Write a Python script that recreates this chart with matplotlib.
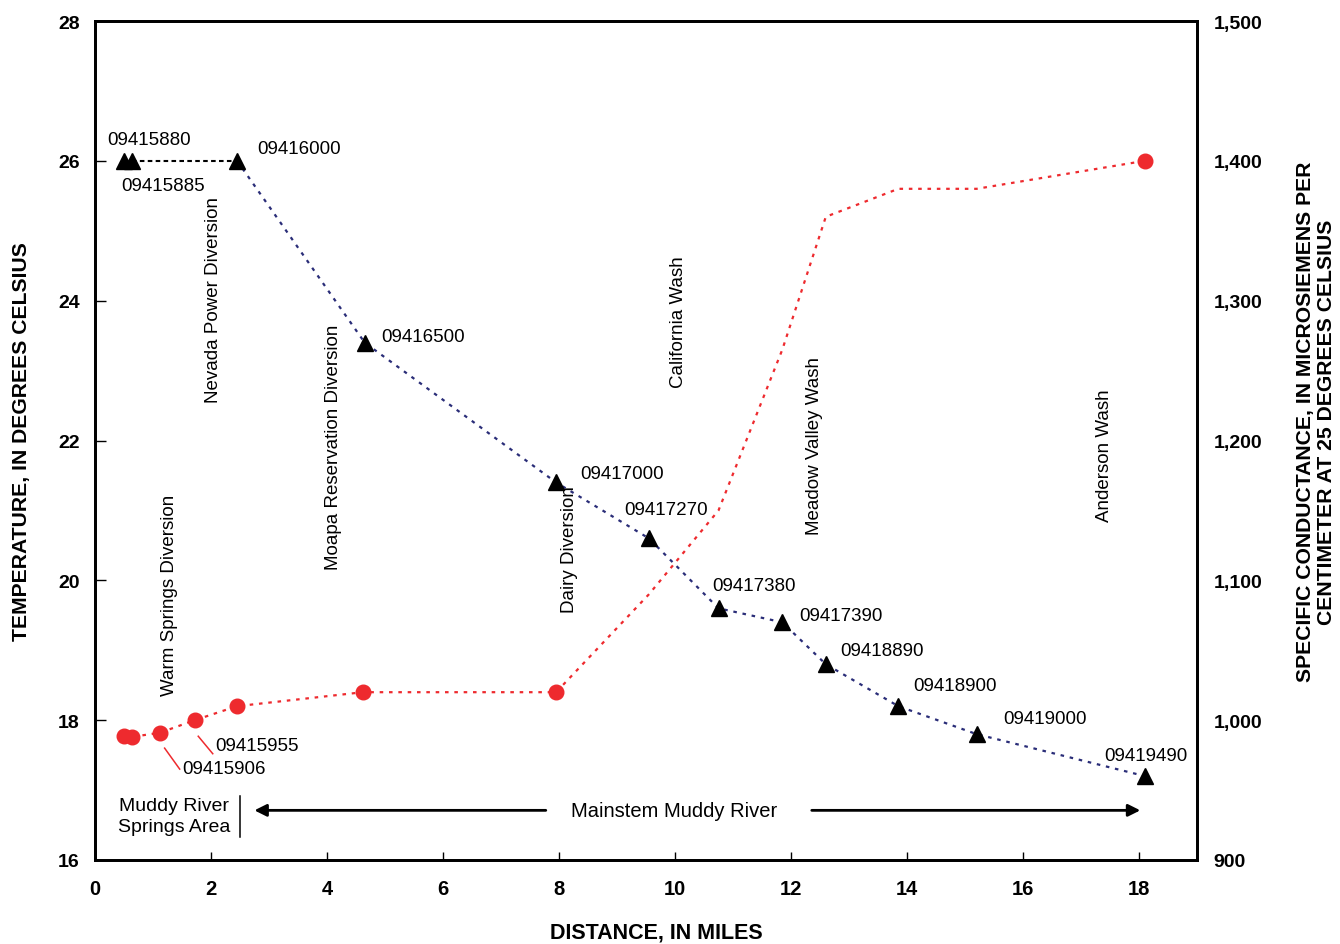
import matplotlib
matplotlib.use('Agg')
from matplotlib import pyplot as plt
from matplotlib.ticker import FuncFormatter

# temperature profile (left axis)
temp_dist = [0.5, 0.63, 2.45, 4.65, 7.95, 9.55, 10.75, 11.85, 12.6, 13.85, 15.2, 18.1]
temp_vals = [26.0, 26.0, 26.0, 23.4, 21.4, 20.6, 19.6, 19.4, 18.8, 18.2, 17.8, 17.2]
temp_ids = ['09415880', '09415885', '09416000', '09416500', '09417000', '09417270',
            '09417380', '09417390', '09418890', '09418900', '09419000', '09419490']

# specific conductance profile (right axis)
cond_dist = [0.5, 0.63, 1.12, 1.72, 2.45, 4.62, 7.95, 9.55, 10.75, 11.85, 12.6, 13.85, 15.2, 18.1]
cond_vals = [989, 988, 991, 1000, 1010, 1020, 1020, 1090, 1150, 1265, 1360, 1380, 1380, 1400]
cond_marked = [True, True, True, True, True, True, True,
               False, False, False, False, False, False, True]

features = ['Warm Springs Diversion', 'Nevada Power Diversion', 'Moapa Reservation Diversion',
            'Dairy Diversion', 'California Wash', 'Meadow Valley Wash', 'Anderson Wash']

SANS = ['Liberation Sans', 'DejaVu Sans']
RED = '#ee2a2e'
NAVY = '#2a2d78'

plt.rcParams['font.family'] = SANS

fig = plt.figure(figsize=(13.4, 9.45), dpi=100)
ax = fig.add_axes([0.0709, 0.0889, 0.8224, 0.8878])
ax2 = ax.twinx()

# temperature line: springs stations dashed black, mainstem dotted navy
ax.plot(temp_dist[:3], temp_vals[:3], color='black', lw=1.5, ls=(0, (2.2, 1.6)), zorder=3)
ax.plot(temp_dist[2:], temp_vals[2:], color=NAVY, lw=1.6, ls=(0, (1.6, 2.6)), zorder=3)
ax.plot(temp_dist, temp_vals, ls='none', marker='^', ms=11, color='black', zorder=5)

# conductance
ax2.plot(cond_dist, cond_vals, color=RED, lw=1.6, ls=(0, (1.6, 2.6)), zorder=3)
mx = [d for d, m in zip(cond_dist, cond_marked) if m]
my = [v for v, m in zip(cond_vals, cond_marked) if m]
ax2.plot(mx, my, ls='none', marker='o', ms=10.5, color=RED, zorder=5)

# station labels
lab_pos = [(0.21, 26.30), (0.45, 25.65), (2.79, 26.17), (4.94, 23.49), (8.37, 21.53),
           (9.13, 21.02), (10.64, 19.92), (12.14, 19.49), (12.85, 18.99), (14.11, 18.49),
           (15.66, 18.03), (17.40, 17.50)]
for s, (x, y) in zip(temp_ids, lab_pos):
    ax.text(x, y, s, fontsize=13.5, ha='left', va='center')

# conductance station labels with leader lines
ax.text(2.08, 17.64, '09415955', fontsize=13.5, ha='left', va='center')
ax.plot([1.78, 2.03], [17.77, 17.52], color=RED, lw=1.1)
ax.text(1.50, 17.31, '09415906', fontsize=13.5, ha='left', va='center')
ax.plot([1.20, 1.46], [17.60, 17.30], color=RED, lw=1.1)

# diversions and washes
feat_pos = [(1.29, 19.80), (2.05, 24.02), (4.12, 21.92), (8.18, 20.46),
            (10.06, 23.71), (12.40, 21.93), (17.41, 21.79)]
for s, (x, y) in zip(features, feat_pos):
    ax.text(x, y, s, fontsize=13.5, rotation=90, ha='center', va='center')

# reach annotations
ax.text(1.36, 16.63, 'Muddy River\nSprings Area', fontsize=14, ha='center', va='center',
        linespacing=1.25)
ax.plot([2.50, 2.50], [16.33, 16.92], color='black', lw=1.1)
ax.text(9.99, 16.71, 'Mainstem Muddy River', fontsize=14.5, ha='center', va='center')
ax.annotate('', xy=(2.70, 16.71), xytext=(7.82, 16.71),
            arrowprops=dict(arrowstyle='-|>', color='black', lw=2, mutation_scale=18))
ax.annotate('', xy=(18.07, 16.71), xytext=(12.31, 16.71),
            arrowprops=dict(arrowstyle='-|>', color='black', lw=2, mutation_scale=18))

ax.set_xlim(0, 19)
ax.set_ylim(16, 28)
ax2.set_ylim(900, 1500)
ax.set_xticks(range(0, 19, 2))
ax.set_yticks(range(16, 29, 2))
ax2.set_yticks(range(900, 1501, 100))
ax2.yaxis.set_major_formatter(FuncFormatter(lambda v, p: f'{int(v):,}'))

ax.tick_params(axis='y', direction='in', length=8, width=1, pad=11, labelsize=14)
ax.tick_params(axis='x', direction='in', length=6, width=1, pad=14, labelsize=14.5)
ax2.tick_params(axis='y', direction='in', length=0, pad=12, labelsize=14)
for lbl in ax.get_yticklabels() + ax2.get_yticklabels() + ax.get_xticklabels():
    lbl.set_fontweight('bold')
for a in (ax, ax2):
    for sp in a.spines.values():
        sp.set_linewidth(2)

# axis titles
fig.text(656 / 1340, 1 - 933 / 945, 'DISTANCE, IN MILES', fontsize=15.5, fontweight='bold',
         ha='center', va='center')
fig.text(22 / 1340, 1 - 442 / 945, 'TEMPERATURE, IN DEGREES CELSIUS', fontsize=15.2,
         fontweight='bold', rotation=90, ha='center', va='center')
fig.text(1316 / 1340, 1 - 422 / 945,
         'SPECIFIC CONDUCTANCE, IN MICROSIEMENS PER\nCENTIMETER AT 25 DEGREES CELSIUS',
         fontsize=15.2, fontweight='bold', rotation=90, ha='center', va='center',
         linespacing=1.1)

fig.savefig('out.png', dpi=100)
